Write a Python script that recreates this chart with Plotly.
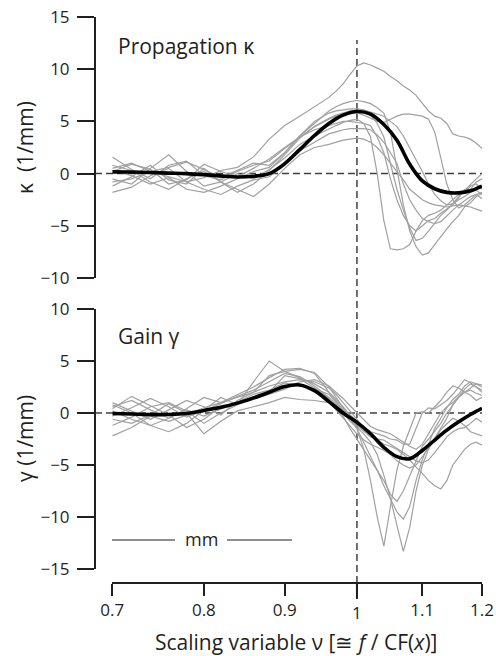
import math
import plotly.graph_objects as go

# Common frequency grid (scaling variable nu) for the individual measurements
NU = [0.70, 0.72, 0.74, 0.76, 0.78, 0.80, 0.82, 0.84, 0.86, 0.88, 0.90, 0.92, 0.94, 0.96,
      0.97, 0.98, 0.99, 1.00, 1.01, 1.02, 1.03, 1.04, 1.05, 1.06, 1.07, 1.08, 1.09, 1.10,
      1.11, 1.12, 1.13, 1.14, 1.15, 1.16, 1.17, 1.18, 1.19, 1.20]

# Propagation constant kappa (1/mm), one list per preparation
kappa_a = [0.5, 1.0, 0.2, -0.3, -0.8, -0.4, 0.3, 0.6, 1.6, 3.3, 4.6, 5.5, 6.4, 7.3,
           7.9, 8.6, 9.5, 10.3, 10.6, 10.4, 10.1, 9.8, 9.3, 8.9, 8.4, 8.0, 7.5, 6.8,
           6.0, 5.5, 5.3, 4.8, 3.8, 3.6, 3.5, 3.3, 2.9, 2.4]
kappa_b = [1.6, 0.4, -0.5, 0.8, 1.2, -0.2, -0.6, 0.2, 0.8, 1.2, 2.4, 3.5, 4.5, 5.2,
           5.5, 5.7, 5.8, 5.8, 5.6, 5.3, 5.0, 4.9, 5.2, 5.5, 5.7, 5.7, 5.6, 5.5,
           5.2, 4.0, 1.5, -1.0, -2.5, -3.3, -3.0, -2.5, -2.0, -1.8]
kappa_c = [-0.5, -1.0, 0.5, 1.8, 0.2, -1.2, -0.8, 0.0, -0.5, 0.4, 1.5, 2.8, 3.6, 4.3,
           4.6, 4.9, 5.1, 5.2, 4.8, 3.5, 0.0, -4.5, -7.2, -7.3, -7.2, -6.8, -5.5, -4.5,
           -4.0, -3.8, -3.5, -3.0, -2.5, -2.0, -1.8, -1.2, -1.0, -1.5]
kappa_d = [0.3, -0.2, -1.0, -0.4, -1.5, -1.8, -1.2, -0.5, 0.2, 0.6, 2.0, 3.6, 4.8, 6.0,
           6.4, 6.7, 6.9, 7.0, 6.9, 6.7, 6.3, 5.8, 4.0, 0.5, -3.0, -5.5, -7.0, -7.8,
           -7.6, -6.8, -6.0, -5.3, -4.6, -4.0, -3.2, -2.8, -2.2, -1.9]
kappa_e = [-1.2, -0.3, 0.8, -0.6, -1.0, 0.5, -0.8, -1.8, -1.0, 0.3, 1.8, 3.4, 4.5, 5.3,
           5.6, 5.8, 6.0, 6.0, 5.9, 5.6, 4.8, 3.5, 1.0, -1.5, -3.5, -5.2, -6.4, -6.2,
           -5.5, -4.8, -4.0, -3.5, -2.8, -2.2, -1.6, -1.0, -0.5, 0.0]
kappa_f = [-1.8, -1.3, -0.2, 0.5, -0.8, -1.5, -2.0, -1.2, -0.6, -0.3, 0.8, 2.2, 3.0, 3.8,
           4.0, 4.2, 4.3, 4.3, 4.3, 4.2, 3.7, 3.0, 2.0, 1.0, -1.0, -2.5, -3.5, -4.3,
           -4.6, -4.8, -4.6, -4.0, -3.5, -3.0, -2.6, -2.2, -2.0, -2.4]
kappa_g = [0.8, 0.3, -0.8, -1.5, -0.5, 0.2, -0.8, -1.5, -2.2, -1.0, 0.5, 1.8, 2.5, 2.8,
           3.0, 3.2, 3.3, 3.4, 3.3, 3.0, 2.5, 1.8, 1.0, 0.2, -0.6, -1.5, -2.0, -2.5,
           -2.8, -3.0, -3.1, -3.2, -3.1, -3.0, -3.1, -3.2, -3.4, -3.6]
kappa_h = [0.2, 0.9, 0.4, -1.0, -0.6, 0.9, 0.2, -0.3, 0.5, 1.4, 2.5, 3.5, 4.2, 4.6,
           4.8, 5.0, 5.0, 4.9, 4.8, 4.6, 3.5, 2.0, -0.5, -2.5, -4.0, -5.0, -5.5, -5.0,
           -4.5, -4.3, -3.8, -3.4, -3.0, -2.3, -1.5, -1.5, -0.8, -0.5]
kappa_i = [-0.8, -0.5, 0.2, 0.6, 1.1, 0.4, -0.4, 0.3, 1.0, 0.8, 2.0, 3.6, 5.0, 5.8,
           6.0, 6.1, 6.2, 6.2, 6.1, 5.9, 5.7, 5.5, 5.0, 4.5, 3.6, 2.5, 1.3, 0.2,
           -1.0, -2.0, -2.6, -3.0, -2.9, -2.5, -2.2, -1.8, -1.6, -2.0]

# Gain gamma (1/mm), one list per preparation
gamma_p = [0.6, 1.2, 0.3, -0.5, 0.4, 1.5, 1.0, 1.8, 2.5, 3.4, 4.2, 4.3, 3.8, 2.0,
           1.2, 0.3, -0.5, -1.5, -3.5, -6.5, -10.0, -12.8, -9.0, -5.5, -3.2, -1.5, 0.0, 0.1,
           0.0, 0.6, 1.2, 2.0, 2.6, 2.4, 2.0, 1.7, 1.2, 1.5]
gamma_q = [-0.3, 0.5, 1.4, 0.6, -0.4, 0.2, 0.9, 1.6, 2.2, 3.0, 3.8, 3.5, 2.6, 1.5,
           0.8, 0.0, -0.8, -1.4, -2.0, -2.8, -4.0, -6.0, -8.2, -10.8, -13.3, -11.0, -7.5, -5.0,
           -3.5, -2.4, -1.4, -0.5, 0.8, 1.5, 2.3, 2.8, 2.5, 2.0]
gamma_r = [1.0, 0.2, -0.6, 0.3, 1.2, 0.6, -0.2, 1.2, 2.0, 3.6, 4.0, 4.2, 3.9, 2.5,
           1.5, 0.6, -0.5, -1.5, -2.8, -4.2, -5.5, -7.0, -8.3, -9.5, -10.2, -9.0, -6.5, -4.5,
           -3.0, -1.5, -0.5, 0.5, 1.3, 1.8, 2.6, 3.0, 2.8, 2.5]
gamma_s = [-2.2, -1.4, -0.3, -0.8, -0.2, 0.5, 1.0, 1.5, 2.0, 2.6, 3.0, 3.2, 3.0, 2.4,
           1.8, 1.0, 0.2, -0.6, -1.4, -2.0, -2.6, -3.0, -3.2, -3.5, -4.0, -4.5, -5.2, -5.8,
           -6.5, -7.0, -7.3, -6.5, -5.0, -4.2, -3.5, -3.0, -2.8, -3.1]
gamma_t = [0.2, -0.6, -1.2, -0.5, 0.3, -0.3, 0.4, 0.9, 1.5, 2.0, 3.6, 3.3, 2.4, 1.4,
           0.5, -0.3, -1.5, -2.5, -3.5, -4.5, -5.5, -6.5, -7.8, -8.5, -7.5, -6.0, -4.5, -3.2,
           -2.5, -1.8, -1.0, 0.0, 0.8, 1.5, 2.0, 2.4, 2.8, 2.7]
gamma_u = [-1.2, -0.4, 0.6, 1.0, 0.2, -1.0, 0.0, 0.8, 3.0, 5.0, 4.0, 3.4, 2.8, 2.0,
           1.3, 0.6, -0.2, -0.8, -1.3, -1.8, -2.0, -2.2, -2.5, -2.6, -3.0, -3.0, -1.5, 0.0,
           0.5, 0.4, 0.8, 1.2, 1.8, 2.5, 3.2, 2.9, 2.5, 2.2]
gamma_v = [0.4, 1.6, 0.7, -0.2, -1.4, -0.6, 0.6, 1.0, 1.8, 2.2, 2.9, 2.6, 2.3, 1.8,
           1.0, 0.2, -0.6, -1.2, -1.8, -2.3, -2.5, -2.6, -3.0, -3.4, -3.8, -4.2, -4.6, -4.8,
           -4.5, -3.8, -3.0, -2.3, -1.8, -1.5, -1.4, -1.0, -0.5, -0.9]
gamma_w = [-0.6, -1.0, -0.2, 0.9, 0.0, -2.0, -0.8, 0.2, 0.6, 1.0, 1.5, 1.3, 1.2, 1.0,
           0.3, -0.5, -1.3, -2.0, -2.6, -3.0, -3.3, -3.6, -4.0, -4.6, -5.0, -5.3, -5.0, -4.2,
           -3.5, -2.6, -1.6, -1.0, -0.5, -0.8, -1.2, -1.8, -2.0, -2.2]
gamma_x = [0.8, 0.0, -1.2, -1.8, -1.0, 0.3, 1.5, 0.8, 1.3, 1.8, 2.3, 3.0, 3.2, 2.6,
           2.0, 1.4, 0.7, 0.0, -0.7, -1.3, -1.6, -1.8, -2.0, -2.4, -2.8, -3.2, -3.5, -3.0,
           -2.0, -1.0, 0.0, 0.6, 1.0, 1.6, 2.0, 2.2, 1.9, 1.7]

# Smooth model fit, sampled every 0.02
NU_FIT = [0.70, 0.72, 0.74, 0.76, 0.78, 0.80, 0.82, 0.84, 0.86, 0.88, 0.90, 0.92, 0.94,
          0.96, 0.98, 1.00, 1.02, 1.04, 1.06, 1.08, 1.10, 1.12, 1.14, 1.16, 1.18, 1.20]
kappa_fit = [0.17, 0.15, 0.10, 0.05, 0.0, -0.1, -0.22, -0.32, -0.25, 0.0, 0.95, 2.3, 3.65,
             4.8, 5.6, 5.95, 5.7, 4.7, 3.2, 0.9, -0.7, -1.45, -1.8, -1.85, -1.65, -1.2]
gamma_fit = [-0.05, -0.1, -0.15, -0.15, -0.05, 0.25, 0.55, 0.95, 1.45, 2.0, 2.55, 2.7, 2.15,
             1.1, 0.0, -0.9, -2.0, -3.3, -4.2, -4.4, -3.6, -2.6, -1.65, -0.85, -0.15, 0.45]

X_TICKS = [0.7, 0.8, 0.9, 1.0, 1.1, 1.2]
X_TICK_TEXT = ["0.7", "0.8", "0.9", "", "1.1", "1.2"]
KAPPA_TICKS = [-10, -5, 0, 5, 10, 15]
GAMMA_TICKS = [-15, -10, -5, 0, 5, 10]

kappa_sets = [kappa_a, kappa_b, kappa_c, kappa_d, kappa_e, kappa_f, kappa_g, kappa_h, kappa_i]
gamma_sets = [gamma_p, gamma_q, gamma_r, gamma_s, gamma_t, gamma_u, gamma_v, gamma_w, gamma_x]

# ---- geometry (pixels) ----
W, H = 496, 656
ML, MR, MT, MB = 95, 14, 17, 73
PW, PH = W - ML - MR, H - MT - MB
X_START = 112.3          # where the nu axis line begins (0.7)


def px_x(p):
    return (p - ML) / PW


def px_y(p):
    return (H - MB - p) / PH


x_lo, x_hi = math.log10(0.7), math.log10(1.2)
x_dom0 = px_x(X_START)


def nu_paper(v):
    return x_dom0 + (1 - x_dom0) * (math.log10(v) - x_lo) / (x_hi - x_lo)


INK = "#231f20"
GRAY = "#a0a0a0"
FONT = "Open Sans"

fig = go.Figure()
for ys in kappa_sets:
    fig.add_trace(go.Scatter(x=NU, y=ys, xaxis="x", yaxis="y", mode="lines",
                             line=dict(color=GRAY, width=1.2), hoverinfo="skip",
                             showlegend=False))
fig.add_trace(go.Scatter(x=NU_FIT, y=kappa_fit, xaxis="x", yaxis="y", mode="lines",
                         line=dict(color="black", width=3.6, shape="spline", smoothing=1.0),
                         hoverinfo="skip", showlegend=False))
for ys in gamma_sets:
    fig.add_trace(go.Scatter(x=NU, y=ys, xaxis="x", yaxis="y2", mode="lines",
                             line=dict(color=GRAY, width=1.2), hoverinfo="skip",
                             showlegend=False))
fig.add_trace(go.Scatter(x=NU_FIT, y=gamma_fit, xaxis="x", yaxis="y2", mode="lines",
                         line=dict(color="black", width=3.6, shape="spline", smoothing=1.0),
                         hoverinfo="skip", showlegend=False))

axis_common = dict(showgrid=False, zeroline=False, showline=True, linecolor=INK,
                   linewidth=2, ticks="outside", tickwidth=2, tickcolor=INK,
                   automargin=False)

fig.update_layout(
    width=W, height=H,
    margin=dict(l=ML, r=MR, t=MT, b=MB, autoexpand=False),
    paper_bgcolor="white", plot_bgcolor="white",
    font=dict(family=FONT, color=INK),
    showlegend=False,
    xaxis=dict(type="log", range=[x_lo, x_hi], domain=[x_dom0, 1], anchor="free", position=0,
               tickvals=X_TICKS, ticktext=X_TICK_TEXT, ticklen=12,
               tickfont=dict(family=FONT, size=17, color=INK), **axis_common),
    yaxis=dict(range=[-10, 15], domain=[px_y(278), px_y(17)], anchor="free", position=0,
               tickvals=KAPPA_TICKS, ticklen=17, ticklabelstandoff=4,
               tickfont=dict(family=FONT, size=17, color=INK), **axis_common),
    yaxis2=dict(range=[-15, 10], domain=[px_y(569), px_y(309)], anchor="free", position=0,
                tickvals=GAMMA_TICKS, ticklen=17, ticklabelstandoff=4,
                tickfont=dict(family=FONT, size=17, color=INK), **axis_common),
)

DASH = dict(color="#404040", width=1.5, dash="7px,4px")
x_one = nu_paper(1.0)
shapes = [
    dict(type="line", xref="paper", yref="y", x0=0, x1=1, y0=0, y1=0, line=DASH, layer="below"),
    dict(type="line", xref="paper", yref="y2", x0=0, x1=1, y0=0, y1=0, line=DASH, layer="below"),
    dict(type="line", xref="paper", yref="paper", x0=x_one, x1=x_one,
         y0=0, y1=px_y(40), line=DASH, layer="below"),
    # longer tick marking nu = 1
    dict(type="line", xref="paper", yref="paper", x0=x_one, x1=x_one,
         y0=0, y1=px_y(599), line=dict(color=INK, width=2)),
    # mm scale bar
    dict(type="line", xref="paper", yref="paper", x0=px_x(112), x1=px_x(175),
         y0=px_y(540), y1=px_y(540), line=dict(color=INK, width=1)),
    dict(type="line", xref="paper", yref="paper", x0=px_x(227), x1=px_x(292),
         y0=px_y(540), y1=px_y(540), line=dict(color=INK, width=1)),
]
fig.update_layout(shapes=shapes)

ann = [
    dict(text="Propagation κ", x=px_x(116), y=px_y(46), xanchor="left", yanchor="middle",
         font=dict(size=21)),
    dict(text="Gain γ", x=px_x(116), y=px_y(336), xanchor="left", yanchor="middle",
         font=dict(size=21)),
    dict(text="mm", x=px_x(201), y=px_y(539), xanchor="center", yanchor="middle",
         font=dict(size=18)),
    dict(text="κ  (1/mm)", x=px_x(25), y=px_y(148), xanchor="center", yanchor="middle",
         textangle=-90, font=dict(size=21)),
    dict(text="γ (1/mm)", x=px_x(25), y=px_y(439), xanchor="center", yanchor="middle",
         textangle=-90, font=dict(size=21)),
    dict(text="1", x=x_one, y=px_y(612), xanchor="center", yanchor="middle",
         font=dict(size=17)),
    dict(text="Scaling variable ν [≅ <i>f</i> / CF(<i>x</i>)]", x=px_x(296), y=px_y(642),
         xanchor="center", yanchor="middle", font=dict(size=21)),
]
for a in ann:
    a.update(xref="paper", yref="paper", showarrow=False)
fig.update_layout(annotations=ann)

fig.write_html("out.html", config={"displayModeBar": False})
